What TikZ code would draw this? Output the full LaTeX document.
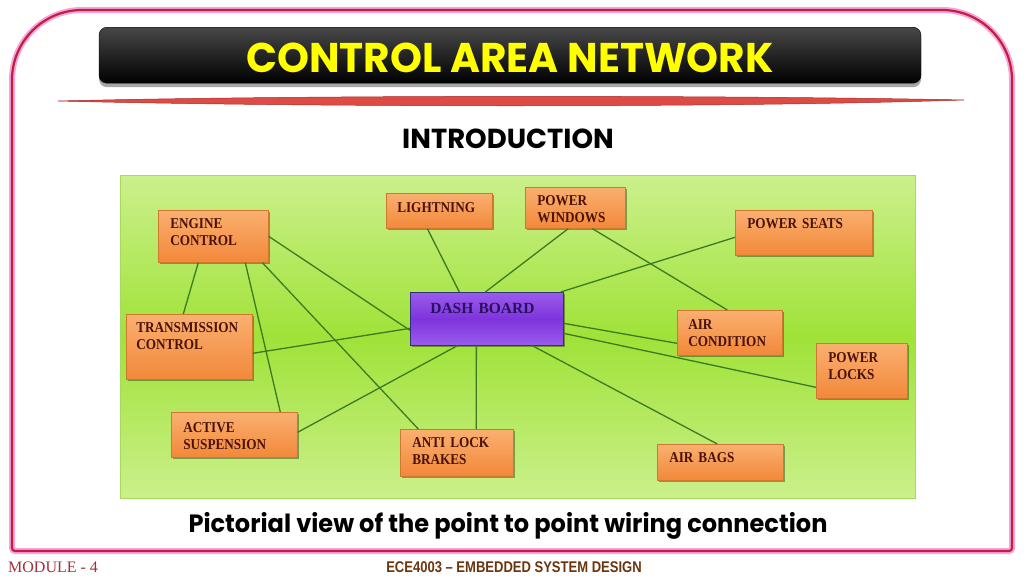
\documentclass[tikz,border=0pt]{standalone}
\usepackage{fontspec}
\usetikzlibrary{calc,shadows}
\newfontfamily\titlefont[FakeStretch=0.98]{Poppins}
\newfontfamily\introfont{Poppins}
\newfontfamily\captionfont[FakeStretch=0.963]{Poppins}
\newfontfamily\boxfont[FakeStretch=0.88]{Liberation Serif}
\newfontfamily\dashfont{Liberation Serif}
\newfontfamily\footfont[FakeStretch=0.84]{Liberation Sans}
\newfontfamily\modfont{Liberation Serif}
\definecolor{framered}{HTML}{C21E3E}
\definecolor{glowpink}{HTML}{F4A6DC}
\definecolor{barred}{HTML}{DC4C44}
\definecolor{bardark}{HTML}{A82828}
\definecolor{titleyellow}{HTML}{FFFF00}
\definecolor{panelmid}{HTML}{A0E238}
\definecolor{paneledge}{HTML}{CBF08C}
\definecolor{panelline}{HTML}{A8D860}
\definecolor{orangetop}{HTML}{FAB070}
\definecolor{orangebot}{HTML}{F2883A}
\definecolor{orangeline}{HTML}{D07830}
\definecolor{boxtext}{HTML}{4A1208}
\definecolor{dashtop}{HTML}{9A5CEC}
\definecolor{dashmid}{HTML}{7E34DC}
\definecolor{dashline}{HTML}{303080}
\definecolor{dashtext}{HTML}{2A1060}
\definecolor{wire}{HTML}{3C7A20}
\definecolor{modred}{HTML}{A0303A}
\definecolor{footbrown}{HTML}{6B3510}
\tikzset{
  obox/.style={anchor=north west, align=left, inner ysep=3pt,
    top color=orangetop, bottom color=orangebot, draw=orangeline, line width=0.6pt,
    font=\boxfont\bfseries\fontsize{15}{17.5}\selectfont, text=boxtext,
    drop shadow={shadow xshift=2pt, shadow yshift=-2pt, fill=black, opacity=0.35}},
  dashbox/.style={anchor=north west, align=left, inner ysep=3pt,
    top color=dashtop, bottom color=dashtop, middle color=dashmid, draw=dashline, line width=0.7pt,
    font=\dashfont\bfseries\fontsize{15.5}{18}\selectfont, text=dashtext,
    drop shadow={shadow xshift=2pt, shadow yshift=-2pt, fill=black, opacity=0.35}},
  wireline/.style={draw=wire, line width=1.3pt},
}
\begin{document}
\begin{tikzpicture}[x=1pt,y=-1pt]
\useasboundingbox (0,0) rectangle (1024,576);
\fill[white] (0,0) rectangle (1024,576);
% frame
\draw[glowpink, line width=6pt] (12,551) [rounded corners=70pt] -- (12,10) -- (1012,10) -- (1012,300) [rounded corners=3pt] -- (1012,551) -- cycle;
\draw[framered, line width=2.2pt] (12,551) [rounded corners=70pt] -- (12,10) -- (1012,10) -- (1012,300) [rounded corners=3pt] -- (1012,551) -- cycle;
% title bar
\node[anchor=north, minimum width=822pt, inner xsep=0pt, inner ysep=5pt, text height=40pt, text depth=6pt,
  rounded corners=8pt, top color=black!72, bottom color=black, draw=black,
  drop shadow={shadow xshift=0pt, shadow yshift=-4pt, fill=black, opacity=0.35},
  text=titleyellow, font=\titlefont\bfseries\fontsize{41.5}{44}\selectfont] (title) at (510,27) {CONTROL AREA NETWORK};
% red bar
\filldraw[fill=barred, draw=bardark, line width=0.5pt] (58,101) .. controls (300,95) and (720,95) .. (964,100) .. controls (720,108) and (300,107) .. (58,101) -- cycle;
% subtitle
\node[anchor=base, inner sep=0pt, font=\introfont\bfseries\fontsize{27.5}{30}\selectfont] (intro) at (508,148) {INTRODUCTION};
% panel
\node[anchor=north west, minimum width=795pt, minimum height=323pt, inner sep=0pt,
  top color=paneledge, bottom color=paneledge, middle color=panelmid, draw=panelline, line width=1pt] (panel) at (120,175) {};
% boxes
\node[obox, inner xsep=12pt, text width=86pt, text height=15pt, text depth=31pt] (eng) at (158,210) {ENGINE\\CONTROL};
\node[obox, inner xsep=11pt, text width=84pt, text height=16pt, text depth=13pt] (light) at (386,193) {LIGHTNING};
\node[obox, inner xsep=10pt, text width=106pt, text height=15pt, text depth=44pt] (trans) at (126,314) {TRANSMISSION\\CONTROL};
\node[obox, inner xsep=12pt, text width=102pt, text height=17pt, text depth=22pt] (act) at (171,412) {ACTIVE\\SUSPENSION};
\node[obox, inner xsep=12pt, text width=89pt, text height=15pt, text depth=26pt] (anti) at (400,429) {ANTI LOCK\\BRAKES};
\node[dashbox, inner xsep=20pt, text width=113pt, text height=18pt, text depth=29pt] (dash) at (410,292) {DASH BOARD};
\node[obox, inner xsep=12pt, text width=76pt, text height=15pt, text depth=20pt] (pw) at (525,187) {POWER\\WINDOWS};
\node[obox, inner xsep=12pt, text width=113pt, text height=15pt, text depth=24pt] (ps) at (735,210) {POWER SEATS};
\node[obox, inner xsep=11pt, text width=83pt, text height=16pt, text depth=23pt] (ac) at (677,310) {AIR\\CONDITION};
\node[obox, inner xsep=12pt, text width=67pt, text height=16pt, text depth=33pt] (pl) at (816,343) {POWER\\LOCKS};
\node[obox, inner xsep=12pt, text width=102pt, text height=15pt, text depth=15pt] (ab) at (657,444) {AIR BAGS};
% wires
\draw[wireline] (eng.east) -- ([yshift=-11.5pt]dash.west);
\draw[wireline] ([xshift=-15pt]eng.south) -- ([xshift=-6pt]trans.north);
\draw[wireline] ([xshift=32pt]eng.south) -- ([xshift=46pt]act.north);
\draw[wireline] ([xshift=49pt]eng.south) -- ([xshift=-38.5pt]anti.north);
\draw[wireline] ([xshift=-12pt]light.south) -- ([xshift=-27.5pt]dash.north);
\draw[wireline] ([yshift=-6.5pt]trans.east) -- ([yshift=-9.5pt]dash.west);
\draw[wireline] ([yshift=2.5pt]act.east) -- ([xshift=-29.5pt]dash.south);
\draw[wireline] ([xshift=19.5pt]anti.north) -- ([xshift=-10.5pt]dash.south);
\draw[wireline] ([xshift=-1.5pt]dash.north) -- ([xshift=-7pt]pw.south);
\draw[wireline] ([xshift=17pt]pw.south) -- ([xshift=-2.5pt]ac.north);
\draw[wireline] ([xshift=-3pt]dash.north east) -- ([yshift=-4.5pt]ps.west);
\draw[wireline] ([yshift=-4.5pt]dash.east) -- ([yshift=-10.5pt]ac.west);
\draw[wireline] ([yshift=-14.5pt]dash.east) -- ([yshift=-16.5pt]pl.west);
\draw[wireline] ([xshift=45.5pt]dash.south) -- ([xshift=-3pt]ab.north);
% caption
\node[anchor=base, inner sep=0pt, font=\captionfont\bfseries\fontsize{25}{30}\selectfont] (caption) at (508,532) {Pictorial view of the point to point wiring connection};
% footer
\node[anchor=base west, inner sep=0pt, text=modred, font=\modfont\fontsize{16}{18}\selectfont] (module) at (8,572) {MODULE - 4};
\node[anchor=base, inner sep=0pt, text=footbrown, font=\footfont\bfseries\fontsize{15.5}{17}\selectfont] (course) at (514,572) {ECE4003 – EMBEDDED SYSTEM DESIGN};
\end{tikzpicture}
\end{document}
